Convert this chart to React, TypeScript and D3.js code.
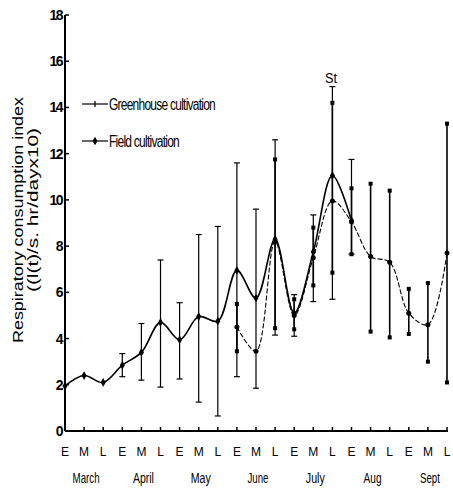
import React from "react";
import * as d3 from "d3";

const periods = ["E", "M", "L"];
const months = ["March", "April", "May", "June", "July", "Aug", "Sept"];
const yTicks = [0, 2, 4, 6, 8, 10, 12, 14, 16, 18];

// Greenhouse cultivation: index 0 (March E) .. 15 (Aug E)
const ghValues = [1.95, 2.4, 2.1, 2.85, 3.4, 4.7, 3.95, 4.95, 4.75, 6.95, 5.75, 8.3, 5.1, 7.75, 11.05, 9.1];
const ghLow = [null, null, null, 2.35, 2.2, 1.9, 2.25, 1.25, 0.65, 2.35, 1.85, 4.15, 4.1, 5.6, 5.7, 7.65];
const ghHigh = [null, null, null, 3.35, 4.65, 7.4, 5.55, 8.5, 8.85, 11.6, 9.6, 12.6, 5.9, 9.35, 14.9, 11.75];

// Field cultivation: index 9 (June E) .. 20 (Sept L)
const fdStart = 9;
const fdValues = [4.5, 3.45, 8.2, 5.0, 7.5, 9.95, 9.05, 7.55, 7.3, 5.1, 4.6, 7.7];
const fdLow = [3.45, null, 4.45, 4.4, 6.3, 6.85, 7.65, 4.3, 4.05, 4.2, 3.0, 2.1];
const fdHigh = [5.5, null, 11.75, 5.7, 8.8, 14.2, 10.5, 10.7, 10.4, 6.15, 6.4, 13.3];

const seriesNames = ["Greenhouse cultivation", "Field cultivation"];

export default function App() {
  const W = 453, H = 488;
  const n = months.length * 3;
  const x = d3.scaleLinear().domain([0, n - 1]).range([65, 447]);
  const y = d3.scaleLinear().domain([0, 18]).range([431, 15]);
  const line = d3
    .line<{ i: number; v: number }>()
    .x((d) => x(d.i))
    .y((d) => y(d.v))
    .curve(d3.curveCatmullRom.alpha(0.5));

  const gh = ghValues.map((v, i) => ({ i, v, lo: ghLow[i], hi: ghHigh[i] }));
  const fd = fdValues.map((v, k) => ({ i: k + fdStart, v, lo: fdLow[k], hi: fdHigh[k] }));
  const font = "'Liberation Sans', Arial, sans-serif";

  return (
    <svg width={W} height={H} style={{ position: "absolute", left: 0, top: 0, background: "#fff" }}>
      <g fill="none" stroke="#000">
        {/* axes */}
        <line x1={x(0)} x2={x(0)} y1={y(0)} y2={y(18)} strokeWidth={2} />
        <line x1={x(0)} x2={x(n - 1) + 1} y1={y(0)} y2={y(0)} strokeWidth={2} />
        {yTicks.map((t) => (
          <line key={"yt" + t} x1={x(0)} x2={x(0) + 4} y1={y(t)} y2={y(t)} strokeWidth={1.5} />
        ))}
        {d3.range(n).map((i) => (
          <line key={"xt" + i} x1={x(i)} x2={x(i)} y1={y(0)} y2={y(0) - 4} strokeWidth={1.5} />
        ))}
      </g>

      {/* y tick labels */}
      {yTicks.map((t) => (
        <text key={"yl" + t} x={x(0) - 3} y={y(t) + 5} textAnchor="end" fontFamily={font}
          fontSize={14} fontWeight="bold" letterSpacing={-1.5}>
          {t}
        </text>
      ))}

      {/* x tick labels */}
      {d3.range(n).map((i) => (
        <text key={"xl" + i} x={x(i)} y={456} textAnchor="middle" fontFamily={font} fontSize={12}>
          {periods[i % 3]}
        </text>
      ))}
      {months.map((m, k) => (
        <text key={"m" + m} x={x(k * 3 + 1) + 2} y={483} textAnchor="middle" fontFamily={font}
          fontSize={14} textLength={[27, 21, 20, 21, 19, 18, 20][k]} lengthAdjust="spacingAndGlyphs">
          {m}
        </text>
      ))}

      {/* y-axis title */}
      <text transform="translate(23,220) rotate(-90)" textAnchor="middle" fontFamily={font} fontSize={15}
        textLength={246} lengthAdjust="spacingAndGlyphs">
        Respiratory consumption index
      </text>
      <text transform="translate(38,210) rotate(-90)" textAnchor="middle" fontFamily={font} fontSize={14}
        textLength={164} lengthAdjust="spacingAndGlyphs">
        ((l(t)/s. hr/dayx10)
      </text>

      {/* error bars */}
      <g stroke="#000" strokeWidth={1.2}>
        {gh.filter((d) => d.lo != null).map((d) => (
          <g key={"ge" + d.i}>
            <line x1={x(d.i)} x2={x(d.i)} y1={y(d.lo as number)} y2={y(d.hi as number)} />
            <line x1={x(d.i) - 3} x2={x(d.i) + 3} y1={y(d.lo as number)} y2={y(d.lo as number)} />
            <line x1={x(d.i) - 3} x2={x(d.i) + 3} y1={y(d.hi as number)} y2={y(d.hi as number)} />
          </g>
        ))}
        {fd.filter((d) => d.lo != null).map((d) => (
          <g key={"fe" + d.i}>
            <line x1={x(d.i)} x2={x(d.i)} y1={y(d.lo as number)} y2={y(d.hi as number)} strokeWidth={1.6} />
            <rect x={x(d.i) - 2} y={y(d.lo as number) - 2} width={4} height={4} fill="#000" stroke="none" />
            <rect x={x(d.i) - 2} y={y(d.hi as number) - 2} width={4} height={4} fill="#000" stroke="none" />
          </g>
        ))}
      </g>

      {/* lines */}
      <path d={line(gh) || ""} fill="none" stroke="#000" strokeWidth={1.6} />
      <path d={line(fd) || ""} fill="none" stroke="#000" strokeWidth={1.1} strokeDasharray="5,2" />

      {/* markers */}
      {gh.map((d) => (
        <path key={"gm" + d.i} d={d3.symbol(d3.symbolDiamond, 22)() || ""}
          transform={`translate(${x(d.i)},${y(d.v)})`} fill="#000" />
      ))}
      {fd.map((d) => (
        <circle key={"fm" + d.i} cx={x(d.i)} cy={y(d.v)} r={2.5} fill="#000" />
      ))}

      {/* St label */}
      <text x={331} y={83} textAnchor="middle" fontFamily={font} fontSize={14}
        textLength={12} lengthAdjust="spacingAndGlyphs">
        St
      </text>

      {/* legend */}
      {seriesNames.map((s, k) => {
        const ly = [104, 141][k];
        return (
          <g key={"lg" + s}>
            <line x1={82} x2={108} y1={ly} y2={ly} stroke="#000" strokeWidth={1.2} />
            {k === 0 ? (
              <g stroke="#000" strokeWidth={1.2}>
                <line x1={95} x2={95} y1={ly - 3} y2={ly + 3} />
              </g>
            ) : (
              <path d={d3.symbol(d3.symbolDiamond, 22)() || ""} transform={`translate(95,${ly})`} fill="#000" />
            )}
            <text x={109} y={ly + 6} fontFamily={font} fontSize={16}
              textLength={[106, 70][k]} lengthAdjust="spacingAndGlyphs" letterSpacing={-1}>
              {s}
            </text>
          </g>
        );
      })}
    </svg>
  );
}
